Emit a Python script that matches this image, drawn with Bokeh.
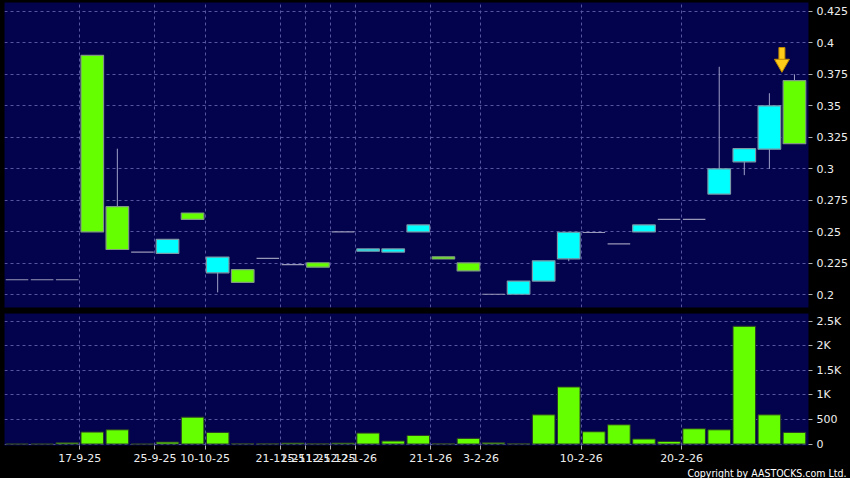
from bokeh.plotting import figure
from bokeh.layouts import column
from bokeh.models import ColumnDataSource, FixedTicker, Range1d, Title
from bokeh.embed import file_html
from bokeh.resources import INLINE

# ---------------- data ----------------
opens = [0.212, 0.212, 0.212, 0.390, 0.270, 0.234, 0.233, 0.265, 0.2175, 0.220, 0.229, 0.224,
         0.2255, 0.250, 0.2347, 0.234, 0.250, 0.2302, 0.2254, 0.2005, 0.2005, 0.211, 0.2286,
         0.2495, 0.2405, 0.250, 0.260, 0.260, 0.280, 0.3056, 0.3156, 0.370]
closes = [0.212, 0.212, 0.212, 0.250, 0.236, 0.234, 0.244, 0.260, 0.230, 0.210, 0.229, 0.224,
          0.222, 0.250, 0.2365, 0.2365, 0.2555, 0.2285, 0.219, 0.2005, 0.211, 0.227, 0.2497,
          0.2495, 0.2405, 0.2555, 0.260, 0.260, 0.300, 0.316, 0.350, 0.320]
highs = [0.212, 0.212, 0.212, 0.390, 0.316, 0.234, 0.244, 0.265, 0.230, 0.220, 0.229, 0.224,
         0.2255, 0.250, 0.2365, 0.2365, 0.2555, 0.2302, 0.2254, 0.2005, 0.211, 0.227, 0.2497,
         0.2495, 0.2405, 0.2555, 0.260, 0.260, 0.381, 0.316, 0.360, 0.375]
lows = [0.212, 0.212, 0.212, 0.250, 0.236, 0.234, 0.233, 0.260, 0.202, 0.210, 0.229, 0.224,
        0.222, 0.250, 0.2347, 0.234, 0.250, 0.2285, 0.219, 0.2005, 0.2005, 0.211, 0.2267,
        0.2495, 0.2405, 0.250, 0.260, 0.260, 0.280, 0.295, 0.300, 0.320]
volumes = [0, 0, 25, 244, 290, 0, 40, 548, 237, 5, 5, 20, 5, 20, 223, 61, 175, 5, 115, 25, 5,
           595, 1163, 250, 392, 102, 53, 311, 290, 2400, 595, 237]

date_tick_index = [3, 6, 8, 11, 12, 13, 14, 17, 19, 23, 27]
date_tick_labels = ["17-9-25", "25-9-25", "10-10-25", "21-11-25", "25-11-25", "12-12-25",
                    "12-1-26", "21-1-26", "3-2-26", "10-2-26", "20-2-26"]
price_ticks = [0.2, 0.225, 0.25, 0.275, 0.3, 0.325, 0.35, 0.375, 0.4, 0.425]
price_tick_labels = ["0.2", "0.225", "0.25", "0.275", "0.3", "0.325", "0.35", "0.375", "0.4", "0.425"]
vol_ticks = [0, 500, 1000, 1500, 2000, 2500]
vol_tick_labels = ["0", "500", "1K", "1.5K", "2K", "2.5K"]
copyright_text = "Copyright by AASTOCKS.com Ltd."

# ---------------- styles ----------------
NAVY = "#03034d"
UP = "#00ffff"
DOWN = "#66ff00"
GRID = "#5656a0"
FONT = "DejaVu Sans"

n = len(opens)
idx = list(range(n))
fills, lines = [], []
for o, c in zip(opens, closes):
    if c > o:
        fills.append(UP); lines.append("#7a9aa8")
    elif c < o:
        fills.append(DOWN); lines.append("#7f9a80")
    else:
        fills.append(None); lines.append("#9898b8")

src = ColumnDataSource(dict(
    x=idx, open=opens, close=closes, high=highs, low=lows,
    top=[max(o, c) for o, c in zip(opens, closes)],
    bottom=[min(o, c) for o, c in zip(opens, closes)],
    fill=fills, line=lines, vol=volumes,
))

x_range = Range1d(-0.5, n - 0.44)
tick_pos = [i - 0.5 for i in date_tick_index]

# ---------------- price panel ----------------
top = figure(width=850, height=310, x_range=x_range, y_range=Range1d(0.19, 0.432),
             output_backend="svg", toolbar_location=None, y_axis_location="right",
             min_border_left=4, min_border_right=42, min_border_top=2, min_border_bottom=3,
             background_fill_color=NAVY, border_fill_color="black", outline_line_color=None)
top.xaxis.visible = False
top.xgrid.ticker = FixedTicker(ticks=tick_pos)
top.ygrid.ticker = FixedTicker(ticks=price_ticks)
for g in (top.xgrid, top.ygrid):
    g.grid_line_color = GRID
    g.grid_line_dash = "3 3"
    g.grid_line_width = 1

top.segment(x0="x", y0="low", x1="x", y1="high", source=src, line_color="#a0a0c8", line_width=1)
top.vbar(x="x", top="top", bottom="bottom", width=0.9, source=src,
         fill_color="fill", line_color="line", line_width=1.2)

# arrow marker above the latest candle
ax = n - 1.5
top.rect(x=[ax], y=[highs[-1] + 0.0165], width=6, height=12, width_units="screen",
         height_units="screen", fill_color="#ffcc1a", line_color="#c08a00", line_width=1)
top.scatter(x=[ax], y=[highs[-1] + 0.0085], marker="inverted_triangle", size=15,
            fill_color="#ffcc1a", line_color="#c08a00", line_width=1)

yax = top.yaxis[0]
yax.ticker = FixedTicker(ticks=price_ticks)
yax.major_label_overrides = {t: l for t, l in zip(price_ticks, price_tick_labels)}

# ---------------- volume panel ----------------
bot = figure(width=850, height=168, x_range=x_range, y_range=Range1d(-30, 2660),
             output_backend="svg", toolbar_location=None, y_axis_location="right",
             min_border_left=4, min_border_right=42, min_border_top=3, min_border_bottom=20,
             background_fill_color=NAVY, border_fill_color="black", outline_line_color=None)
bot.vbar(x="x", top="vol", bottom=0, width=0.9, source=src,
         fill_color=DOWN, line_color="#2a3a2a", line_width=1)
bot.xgrid.ticker = FixedTicker(ticks=tick_pos)
bot.ygrid.ticker = FixedTicker(ticks=vol_ticks)
for g in (bot.xgrid, bot.ygrid):
    g.grid_line_color = GRID
    g.grid_line_dash = "3 3"
    g.grid_line_width = 1

xax = bot.xaxis[0]
xax.ticker = FixedTicker(ticks=tick_pos)
xax.major_label_overrides = {t: l for t, l in zip(tick_pos, date_tick_labels)}
vax = bot.yaxis[0]
vax.ticker = FixedTicker(ticks=vol_ticks)
vax.major_label_overrides = {t: l for t, l in zip(vol_ticks, vol_tick_labels)}

for a in (yax, xax, vax):
    a.axis_line_color = None
    a.major_tick_line_color = "#b0b0b0"
    a.major_tick_in = 0
    a.major_tick_out = 4
    a.minor_tick_line_color = None
    a.major_label_text_color = "#eeeeee"
    a.major_label_text_font = FONT
    a.major_label_text_font_size = "11px"
    a.major_label_standoff = 4

bot.add_layout(Title(text=copyright_text, align="right", text_color="#ffffff",
                     text_font="DejaVu Sans Condensed, Liberation Sans Narrow, sans-serif",
                     text_font_size="10.5px",
                     text_font_style="normal", standoff=0, offset=-38), "below")

layout = column(top, bot, spacing=0, styles={"background-color": "black"})

with open("out.html", "w") as f:
    f.write(file_html(layout, INLINE))
